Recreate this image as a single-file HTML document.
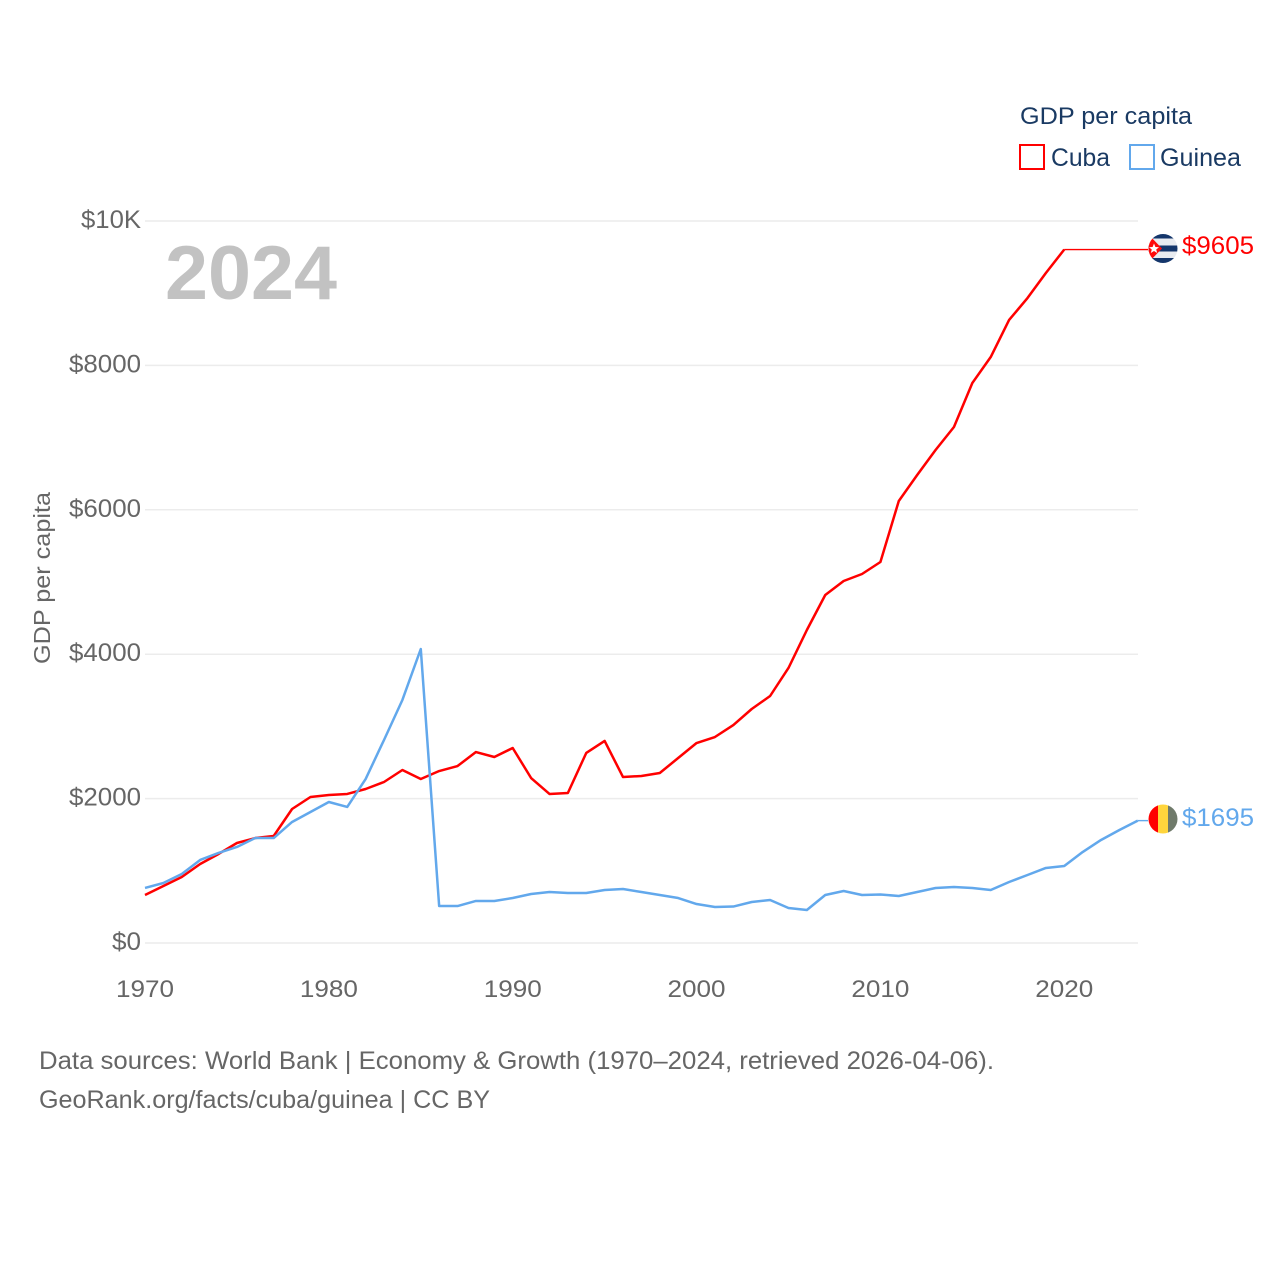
<!DOCTYPE html>
<html lang="en">
<head>
<meta charset="utf-8">
<title>GDP per capita: Cuba and Guinea</title>
<style>
html,body{margin:0;padding:0;background:#fff;}
svg{display:block;}
text{font-family:"Liberation Sans",sans-serif;}
</style>
</head>
<body>
<svg id="chart" width="1280" height="1280" viewBox="0 0 1280 1280" xmlns="http://www.w3.org/2000/svg">
  <defs>
    <clipPath id="cuba-clip"><circle cx="1163" cy="248.5" r="14.5"/></clipPath>
    <clipPath id="guinea-clip"><circle cx="1163" cy="819" r="14.5"/></clipPath>
  </defs>
  <rect width="1280" height="1280" fill="#ffffff"/>
  <g id="grid"></g>
  <g id="yticks"></g>
  <g id="xticks"></g>
  <text transform="translate(50,578) rotate(-90)" text-anchor="middle" font-size="23" fill="#666666" textLength="172" lengthAdjust="spacingAndGlyphs">GDP per capita</text>
  <text x="165" y="299" font-size="76" font-weight="700" fill="#c2c2c2" textLength="172" lengthAdjust="spacingAndGlyphs">2024</text>
  <g id="series"></g>

  <g clip-path="url(#cuba-clip)">
    <rect x="1148" y="233" width="30" height="31" fill="#e8ebf0"/>
    <rect x="1148" y="233" width="30" height="5.5" fill="#14366b"/>
    <rect x="1148" y="245.5" width="30" height="6" fill="#14366b"/>
    <rect x="1148" y="258" width="30" height="6" fill="#14366b"/>
    <polygon points="1148,234 1148,263 1162,248.5" fill="#ff0a0a"/>
    <polygon points="1154,243.5 1155.4,247 1159,247.2 1156.2,249.5 1157.2,253 1154,251 1150.8,253 1151.8,249.5 1149,247.2 1152.6,247" fill="#ffffff"/>
  </g>
  <text id="cuba-value" x="1182" y="254" font-size="25" fill="#ff0000" textLength="72" lengthAdjust="spacingAndGlyphs">$9605</text>

  <g clip-path="url(#guinea-clip)">
    <rect x="1148" y="804" width="10" height="30" fill="#ff0000"/>
    <rect x="1158" y="804" width="10" height="30" fill="#ffd53d"/>
    <rect x="1168" y="804" width="10" height="30" fill="#6f7a6a"/>
  </g>
  <text id="guinea-value" x="1182" y="826" font-size="25" fill="#62a8ec" textLength="72" lengthAdjust="spacingAndGlyphs">$1695</text>

  <g>
    <text x="1020" y="124" font-size="24" fill="#1a3a63" textLength="172" lengthAdjust="spacingAndGlyphs">GDP per capita</text>
    <g>
      <rect x="1020" y="145" width="24" height="24" fill="#ffffff" stroke="#ff0000" stroke-width="2"/>
      <text x="1051" y="166" font-size="25" fill="#1a3a63" textLength="59" lengthAdjust="spacingAndGlyphs">Cuba</text>
    </g>
    <g>
      <rect x="1130" y="145" width="24" height="24" fill="#ffffff" stroke="#62a8ec" stroke-width="2"/>
      <text x="1160" y="166" font-size="25" fill="#1a3a63" textLength="81" lengthAdjust="spacingAndGlyphs">Guinea</text>
    </g>
  </g>

  <text x="39" y="1069" font-size="25" fill="#666666" textLength="955" lengthAdjust="spacingAndGlyphs">Data sources: World Bank | Economy &amp; Growth (1970–2024, retrieved 2026-04-06).</text>
  <text x="39" y="1108" font-size="25" fill="#666666" textLength="451" lengthAdjust="spacingAndGlyphs">GeoRank.org/facts/cuba/guinea | CC BY</text>
</svg>
<script>
const NS = 'http://www.w3.org/2000/svg';
const firstYear = 1970;
const lastYear = 2024;
const xTickYears = [1970, 1980, 1990, 2000, 2010, 2020];
const yTickValues = [0, 2000, 4000, 6000, 8000, 10000];
const yTickLabels = ['$0', '$2000', '$4000', '$6000', '$8000', '$10K'];
const cubaValues = [665, 789, 914, 1094, 1233, 1385, 1454, 1482, 1856, 2022,
  2050, 2064, 2133, 2230, 2396, 2271, 2382, 2451, 2645, 2576,
  2701, 2285, 2064, 2078, 2632, 2798, 2299, 2313, 2355, 2562,
  2770, 2853, 3019, 3241, 3421, 3809, 4335, 4820, 5014, 5111,
  5277, 6122, 6482, 6828, 7147, 7756, 8116, 8629, 8933, 9280,
  9605];
const guineaValues = [762, 831, 956, 1150, 1247, 1330, 1454, 1454, 1676, 1814,
  1953, 1884, 2271, 2812, 3366, 4072, 512, 512, 582, 582,
  623, 679, 706, 693, 693, 734, 748, 706, 665, 623,
  540, 499, 505, 568, 596, 485, 457, 665, 720, 665,
  672, 651, 706, 762, 776, 762, 734, 845, 942, 1039,
  1066, 1260, 1427, 1565, 1695];
const cubaLatest = 9605;
const guineaLatest = 1695;

function xScale(year) { return 145 + (year - firstYear) * (1137.8 - 145) / (lastYear - firstYear); }
function yScale(value) { return 943 - value * 722 / 10000; }
function el(tag, attrs, parent) {
  const node = document.createElementNS(NS, tag);
  for (const k in attrs) node.setAttribute(k, attrs[k]);
  parent.appendChild(node);
  return node;
}
function linePoints(values) {
  return values.map((v, i) => xScale(firstYear + i).toFixed(2) + ',' + yScale(v).toFixed(2)).join(' ');
}

const grid = document.getElementById('grid');
const yticks = document.getElementById('yticks');
const xticks = document.getElementById('xticks');
const seriesGroup = document.getElementById('series');

yTickValues.forEach((v, i) => {
  const gl = el('line', {x1: 145, x2: 1138, y1: yScale(v), y2: yScale(v), stroke: '#ececec', 'stroke-width': 1.5}, grid);
  
  
  const label = yTickLabels[i];
  const t = el('text', {x: 141, y: yScale(v) + 7, 'text-anchor': 'end', 'font-size': 25, fill: '#666666', textLength: label.length === 2 ? 29 : (label.length === 4 ? 60 : 72), lengthAdjust: 'spacingAndGlyphs'}, yticks);
  
  
  t.textContent = label;
});

xTickYears.forEach((yr) => {
  const t = el('text', {x: xScale(yr), y: 997, 'text-anchor': 'middle', 'font-size': 24, fill: '#666666', textLength: 58, lengthAdjust: 'spacingAndGlyphs'}, xticks);
  
  
  t.textContent = String(yr);
});

const cubaLine = el('polyline', {points: linePoints(cubaValues), fill: 'none', stroke: '#ff0000', 'stroke-width': 2.5, 'stroke-linejoin': 'round'}, seriesGroup);



const cubaEndX = xScale(firstYear + cubaValues.length - 1);
const cubaConnector = el('line', {x1: cubaEndX, x2: 1148, y1: yScale(cubaLatest), y2: yScale(cubaLatest), stroke: '#ff0000', 'stroke-width': 1.4}, seriesGroup);



const guineaLine = el('polyline', {points: linePoints(guineaValues), fill: 'none', stroke: '#62a8ec', 'stroke-width': 2.5, 'stroke-linejoin': 'round'}, seriesGroup);



const guineaEndX = xScale(firstYear + guineaValues.length - 1);
const guineaConnector = el('line', {x1: guineaEndX, x2: 1148, y1: yScale(guineaLatest), y2: yScale(guineaLatest), stroke: '#62a8ec', 'stroke-width': 1.4}, seriesGroup);


</script>
</body>
</html>
